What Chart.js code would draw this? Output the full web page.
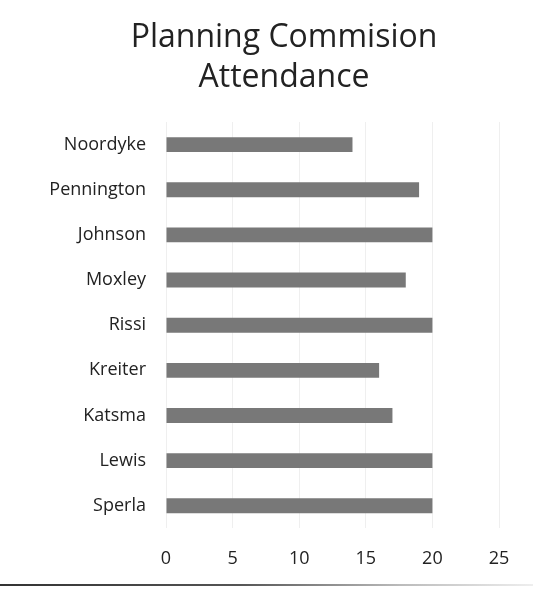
<!DOCTYPE html>
<html>
<head>
<meta charset="utf-8">
<script src="https://cdn.jsdelivr.net/npm/chart.js@4/dist/chart.umd.min.js"></script>
<style>
    html, body { margin: 0; padding: 0; background: #fff; }
    #wrap { position: relative; width: 533px; height: 592px; }
    #scanLine {
        position: absolute; left: 0; top: 584px; width: 533px; height: 2px;
        background: linear-gradient(to right, #333 0%, #555 45%, #bbb 75%, #eee 100%);
    }
</style>
</head>
<body>
<div id="wrap">
    <canvas id="attendanceChart" width="533" height="592"></canvas>
    <div id="scanLine"></div>
</div>
<script>
// Members and meetings attended
const members = ["Noordyke", "Pennington", "Johnson", "Moxley", "Rissi", "Kreiter", "Katsma", "Lewis", "Sperla"];
const attended = [14, 19, 20, 18, 20, 16, 17, 20, 20];
const xTicks = [0, 5, 10, 15, 20, 25];
const titleLines = ["Planning Commision", "Attendance"];

const textColor = "#222";
const fontFamily = "'Open Sans', 'Noto Sans', sans-serif";

// The original title sits right of the canvas centre, so draw it ourselves
const offsetTitle = {
    id: "offsetTitle",
    afterDraw(chart) {
        const c = chart.ctx;
        c.save();
        c.fillStyle = textColor;
        c.font = `32px ${fontFamily}`;
        c.textAlign = "center";
        c.textBaseline = "middle";
        titleLines.forEach((line, i) => c.fillText(line, 284, 38 + i * 40));
        c.restore();
    }
};

document.addEventListener("DOMContentLoaded", () => {
    const ctx = document.getElementById("attendanceChart");

    new Chart(ctx, {
        type: "bar",
        data: {
            labels: members,
            datasets: [{
                data: attended,
                backgroundColor: "#787878",
                borderWidth: 0,
                categoryPercentage: 1,
                barPercentage: 0.33
            }]
        },
        options: {
            indexAxis: "y",
            responsive: false,
            animation: false,
            layout: { padding: { left: 0, right: 34, top: 122, bottom: 2 } },
            plugins: {
                legend: { display: false },
                tooltip: { enabled: false },
                title: { display: false }
            },
            scales: {
                x: {
                    min: 0,
                    max: 25,
                    afterBuildTicks: (scale) => {
                        scale.ticks = xTicks.map(v => ({ value: v }));
                    },
                    grid: { color: "#efefef", drawTicks: false },
                    border: { display: false },
                    ticks: {
                        color: textColor,
                        padding: 20,
                        font: { family: fontFamily, size: 18 }
                    }
                },
                y: {
                    afterFit: (scale) => { scale.width = 166; },
                    grid: { display: false, drawTicks: false },
                    border: { display: false },
                    ticks: {
                        color: textColor,
                        padding: 20,
                        font: { family: fontFamily, size: 18 }
                    }
                }
            }
        },
        plugins: [offsetTitle]
    });
});
</script>
</body>
</html>
